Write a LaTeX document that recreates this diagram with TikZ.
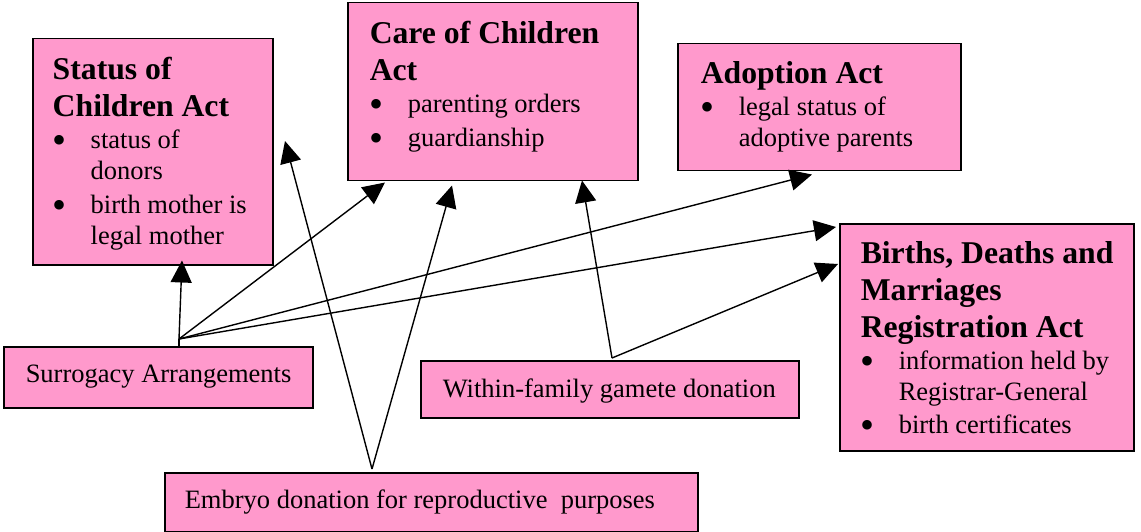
\documentclass[tikz,border=0pt]{standalone}
\usepackage{fontspec}
\setmainfont{Liberation Serif}
\usetikzlibrary{arrows.meta,calc}
\definecolor{pinkfill}{HTML}{FF99CC}
\newcommand\hdfont{\fontsize{31.7}{37}\selectfont\bfseries}
\newcommand\txfont{\fontsize{26.5}{31}\selectfont\mdseries}
\newcommand\bigdot{\raisebox{-5pt}[0pt][0pt]{\fontsize{40}{40}\selectfont\textbullet}}
\newcommand\bul[1]{{\hangindent=38pt\hangafter=1 \makebox[38pt][l]{\bigdot}#1\par}}
\newcommand\inbox[4]{\parbox[c][#2][t]{#1}{\parindent=0pt\leftskip=#3\rightskip=0pt plus 1fil\relax #4}}
\tikzset{
  actbox/.style={draw, line width=1.5pt, fill=pinkfill, inner sep=0pt, anchor=north west},
  conn/.style={line width=1.4pt, -{Triangle[length=22pt,width=21pt]}},
  plain/.style={line width=1.4pt}
}
\begin{document}
\begin{tikzpicture}[x=1pt,y=-1pt]
\useasboundingbox (0,0) rectangle (1141,532);
% boxes
\node[actbox] (status) at (32,38) {\inbox{240pt}{226pt}{20pt}{%
  \hdfont\rule{0pt}{41pt}Status of\\Children Act\par
  \txfont\vspace{1pt}\bul{status of\\donors}\vspace{3pt}\bul{birth mother is\\legal mother}}};
\node[actbox] (care) at (347,2) {\inbox{290pt}{178pt}{22pt}{%
  \hdfont\rule{0pt}{41pt}Care of Children\\Act\par
  \txfont\vspace{1pt}\bul{parenting orders}\vspace{3pt}\bul{guardianship}}};
\node[actbox] (adopt) at (677,43) {\inbox{283pt}{127pt}{23pt}{%
  \hdfont\rule{0pt}{40pt}Adoption Act\par
  \txfont\vspace{1pt}\bul{legal status of\\adoptive parents}}};
\node[actbox] (bdm) at (839,223) {\inbox{294pt}{227pt}{21pt}{%
  \hdfont\rule{0pt}{40pt}Births, Deaths and\\Marriages\\Registration Act\par
  \txfont\vspace{1pt}\bul{information held by\\Registrar-General}\vspace{2pt}\bul{birth certificates}}};
\node[actbox] (surr) at (3,346) {\inbox{309pt}{61pt}{22pt}{%
  \txfont\rule{0pt}{36pt}Surrogacy Arrangements\par}};
\node[actbox] (within) at (420,360) {\inbox{378pt}{57pt}{22pt}{%
  \txfont\rule{0pt}{37pt}Within-family gamete donation\par}};
\node[actbox] (embryo) at (164,472) {\inbox{533pt}{59pt}{20pt}{%
  \txfont\rule{0pt}{36pt}Embryo donation for reproductive\ \ purposes\par}};
% junction points and free end
\coordinate (sO) at ($(surr.north west)+(176,-7)$);
\coordinate (eO) at ($(embryo.north west)+(208,-3)$);
\coordinate (wO) at ($(within.north west)+(192,-2)$);
\coordinate (eF) at (285,141);
% connectors
\draw[plain] ($(surr.north west)+(176,0)$) -- (sO);
\draw[conn] (sO) -- ($(status.south west)+(150,-5)$);
\draw[conn] (sO) -- ($(care.south west)+(38,1)$);
\draw[conn] (sO) -- ($(adopt.south west)+(135,3)$);
\draw[conn] (sO) -- ($(bdm.north west)+(-3,4)$);
\draw[conn] (eO) -- (eF);
\draw[conn] (eO) -- ($(care.south west)+(105,4)$);
\draw[conn] (wO) -- ($(care.south west)+(235,-1)$);
\draw[conn] (wO) -- ($(bdm.north west)+(-1,41)$);
\end{tikzpicture}
\end{document}
